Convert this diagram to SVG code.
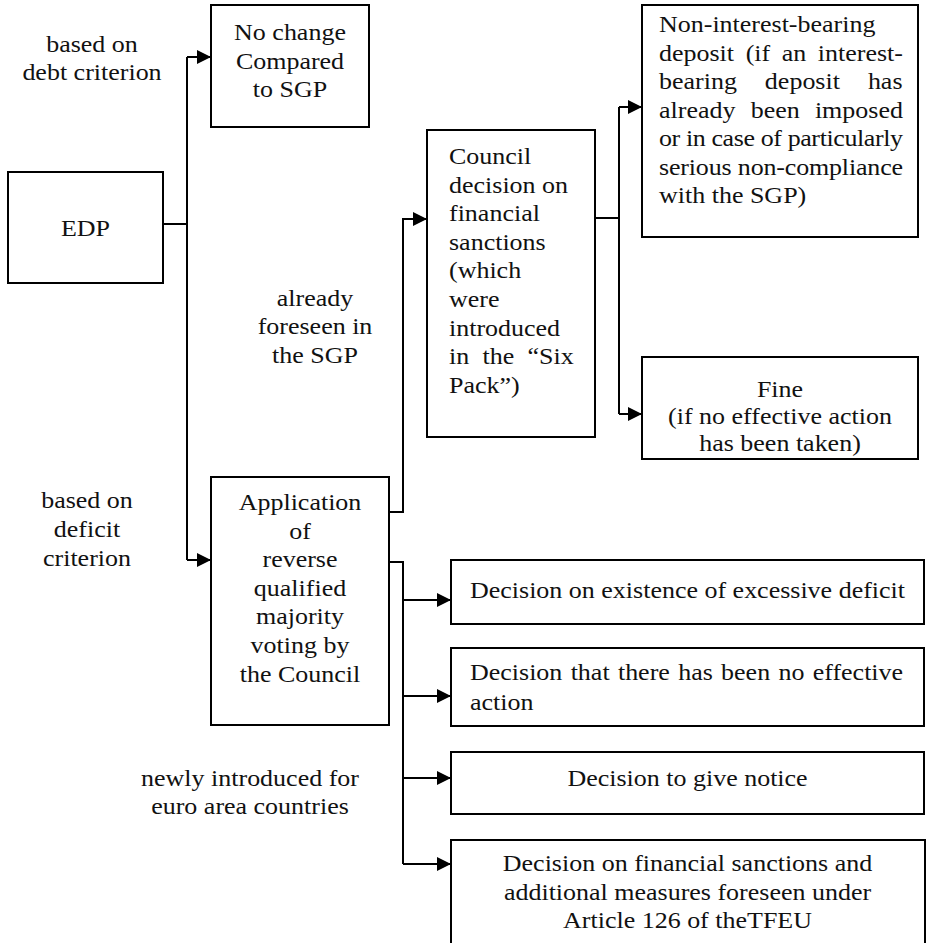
<svg xmlns="http://www.w3.org/2000/svg" width="926" height="943" viewBox="0 0 926 943">
<style>
  .box { fill: #ffffff; stroke: #000000; stroke-width: 2; }
  .ln { fill: none; stroke: #000000; stroke-width: 2; }
  .m { text-anchor: middle; }
</style>
<defs>
  <marker id="ah" markerUnits="userSpaceOnUse" viewBox="0 0 14 14" markerWidth="14" markerHeight="14" refX="14" refY="7" orient="auto">
    <path d="M0,0 L14,7 L0,14 z" fill="#000000"/>
  </marker>
</defs>
<rect width="926" height="943" fill="#ffffff"/>

<g id="connectors">
  <path class="ln" d="M163,224 H187"/>
  <path class="ln" d="M187,57 V560"/>
  <path class="ln" d="M187,57 H211" marker-end="url(#ah)"/>
  <path class="ln" d="M187,560 H211" marker-end="url(#ah)"/>
  <path class="ln" d="M389,512 H403 V219 H427" marker-end="url(#ah)"/>
  <path class="ln" d="M595,218 H619"/>
  <path class="ln" d="M619,107 V414"/>
  <path class="ln" d="M619,107 H642" marker-end="url(#ah)"/>
  <path class="ln" d="M619,414 H642" marker-end="url(#ah)"/>
  <path class="ln" d="M389,562 H403 V864"/>
  <path class="ln" d="M403,600 H451" marker-end="url(#ah)"/>
  <path class="ln" d="M403,696 H451" marker-end="url(#ah)"/>
  <path class="ln" d="M403,778 H451" marker-end="url(#ah)"/>
  <path class="ln" d="M403,864 H451" marker-end="url(#ah)"/>
</g>

<g font-family="Liberation Serif" font-size="23" fill="#111111">
<g id="labels">
  <text class="m" transform="translate(92 52) scale(1.13 1)">based on</text>
  <text class="m" transform="translate(92 80) scale(1.13 1)">debt criterion</text>
  <text class="m" transform="translate(315 306) scale(1.13 1)">already</text>
  <text class="m" transform="translate(315 334) scale(1.13 1)">foreseen in</text>
  <text class="m" transform="translate(315 363) scale(1.13 1)">the SGP</text>
  <text class="m" transform="translate(87 508) scale(1.13 1)">based on</text>
  <text class="m" transform="translate(87 537) scale(1.13 1)">deficit</text>
  <text class="m" transform="translate(87 566) scale(1.13 1)">criterion</text>
  <text class="m" transform="translate(250 786) scale(1.13 1)">newly introduced for</text>
  <text class="m" transform="translate(250 814) scale(1.13 1)">euro area countries</text>
</g>

<g id="node-nochange">
  <rect class="box" x="211" y="5" width="158" height="122"/>
  <text class="m" transform="translate(290 40) scale(1.13 1)">No change</text>
  <text class="m" transform="translate(290 69) scale(1.13 1)">Compared</text>
  <text class="m" transform="translate(290 97) scale(1.13 1)">to SGP</text>
</g>

<g id="node-edp">
  <rect class="box" x="8" y="172" width="155" height="111"/>
  <text class="m" transform="translate(85.5 236) scale(1.13 1)">EDP</text>
</g>

<g id="node-council">
  <rect class="box" x="427" y="130" width="168" height="307"/>
  <text transform="translate(449 164) scale(1.13 1)">Council</text>
  <text transform="translate(449 193) scale(1.13 1)">decision on</text>
  <text transform="translate(449 221) scale(1.13 1)">financial</text>
  <text transform="translate(449 250) scale(1.13 1)">sanctions</text>
  <text transform="translate(449 278) scale(1.13 1)">(which</text>
  <text transform="translate(449 307) scale(1.13 1)">were</text>
  <text transform="translate(449 336) scale(1.13 1)">introduced</text>
  <text transform="translate(449 364) scale(1.13 1)" word-spacing="6">in the “Six</text>
  <text transform="translate(449 393) scale(1.13 1)">Pack”)</text>
</g>

<g id="node-deposit">
  <rect class="box" x="642" y="5" width="276" height="232"/>
  <text transform="translate(659 32) scale(1.13 1)">Non-interest-bearing</text>
  <text transform="translate(659 60.5) scale(1.13 1)" word-spacing="4.5">deposit (if an interest-</text>
  <text transform="translate(659 89) scale(1.13 1)" word-spacing="19">bearing deposit has</text>
  <text transform="translate(659 117.5) scale(1.13 1)" word-spacing="7.7">already been imposed</text>
  <text transform="translate(659 146) scale(1.13 1)" textLength="216" lengthAdjust="spacing">or in case of particularly</text>
  <text transform="translate(659 174.5) scale(1.13 1)" textLength="216" lengthAdjust="spacing">serious non-compliance</text>
  <text transform="translate(659 203) scale(1.13 1)">with the SGP)</text>
</g>

<g id="node-fine">
  <rect class="box" x="642" y="357" width="276" height="102"/>
  <text class="m" transform="translate(780 397) scale(1.13 1)">Fine</text>
  <text class="m" transform="translate(780 424) scale(1.13 1)">(if no effective action</text>
  <text class="m" transform="translate(780 451) scale(1.13 1)">has been taken)</text>
</g>

<g id="node-rqmv">
  <rect class="box" x="211" y="477" width="178" height="248"/>
  <text class="m" transform="translate(300 510) scale(1.13 1)">Application</text>
  <text class="m" transform="translate(300 538.6) scale(1.13 1)">of</text>
  <text class="m" transform="translate(300 567.2) scale(1.13 1)">reverse</text>
  <text class="m" transform="translate(300 595.8) scale(1.13 1)">qualified</text>
  <text class="m" transform="translate(300 624.4) scale(1.13 1)">majority</text>
  <text class="m" transform="translate(300 653) scale(1.13 1)">voting by</text>
  <text class="m" transform="translate(300 681.6) scale(1.13 1)">the Council</text>
</g>

<g id="node-excessive">
  <rect class="box" x="451" y="560" width="473" height="64"/>
  <text class="m" transform="translate(687.5 598) scale(1.13 1)">Decision on existence of excessive deficit</text>
</g>

<g id="node-noaction">
  <rect class="box" x="451" y="648" width="473" height="78"/>
  <text transform="translate(470 680) scale(1.13 1)" word-spacing="1.6">Decision that there has been no effective</text>
  <text transform="translate(470 710) scale(1.13 1)">action</text>
</g>

<g id="node-notice">
  <rect class="box" x="451" y="752" width="473" height="62"/>
  <text class="m" transform="translate(687.5 786) scale(1.13 1)">Decision to give notice</text>
</g>

<g id="node-sanctions">
  <rect class="box" x="451" y="840" width="474" height="115"/>
  <text class="m" transform="translate(687.5 871) scale(1.13 1)">Decision on financial sanctions and</text>
  <text class="m" transform="translate(687.5 900) scale(1.13 1)">additional measures foreseen under</text>
  <text class="m" transform="translate(687.5 928) scale(1.13 1)">Article 126 of theTFEU</text>
</g>
</g>
</svg>
